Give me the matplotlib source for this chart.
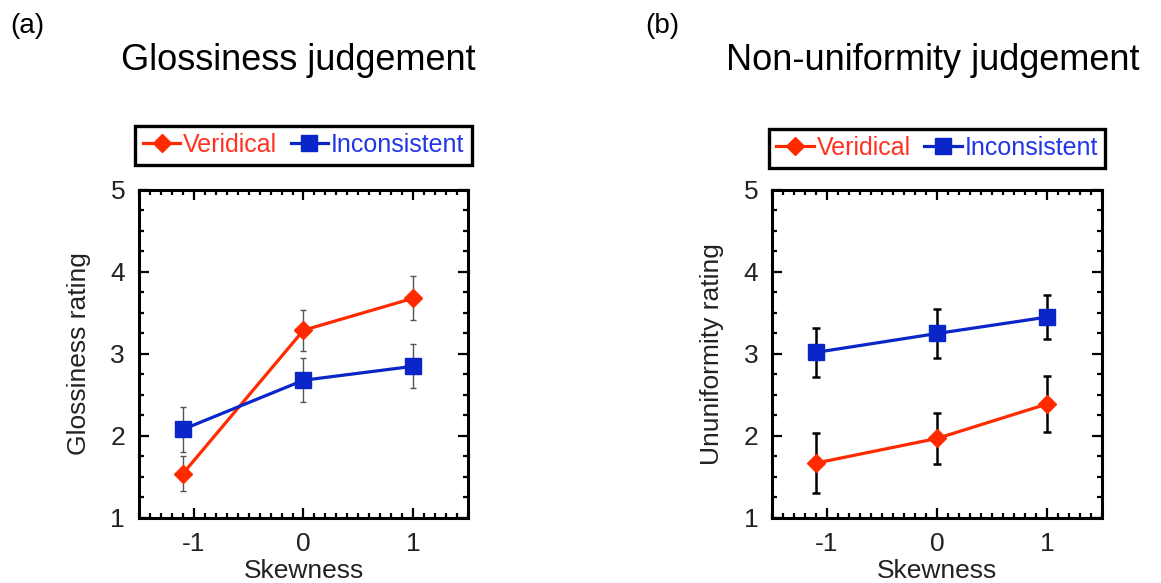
"""Glossiness and non-uniformity ratings against skewness."""

import matplotlib
matplotlib.use('Agg')
import matplotlib.pyplot as plt
from matplotlib.ticker import MultipleLocator

plt.rcParams['font.family'] = ['Liberation Sans', 'DejaVu Sans']

skew = [-1.1, 0, 1]
skew_ticks = [-1, 0, 1]
conditions = ['Veridical', 'Inconsistent']

gloss_veridical = [1.54, 3.29, 3.68]
gloss_veridical_err = [0.21, 0.25, 0.27]
gloss_inconsistent = [2.08, 2.68, 2.85]
gloss_inconsistent_err = [0.27, 0.27, 0.27]

unif_veridical = [1.67, 1.97, 2.39]
unif_veridical_err = [0.37, 0.31, 0.34]
unif_inconsistent = [3.02, 3.25, 3.45]
unif_inconsistent_err = [0.30, 0.30, 0.27]

RED = '#ff2a00'
BLUE = '#0a26c8'
RED_TXT = '#ff3322'
BLUE_TXT = '#2236e8'


def panel(ax, ver, ver_err, inc, inc_err, ylabel, ecol, elw, cap, leg_y):
    """Draw one rating panel."""
    ax.errorbar(skew, ver, yerr=ver_err, fmt='none', ecolor=ecol,
                elinewidth=elw, capsize=cap, capthick=elw, zorder=2)
    ax.errorbar(skew, inc, yerr=inc_err, fmt='none', ecolor=ecol,
                elinewidth=elw, capsize=cap, capthick=elw, zorder=2)
    ax.plot(skew, ver, color=RED, lw=2.3, marker='D', ms=9.5,
            label=conditions[0], zorder=3)
    ax.plot(skew, inc, color=BLUE, lw=2.3, marker='s', ms=11.5,
            label=conditions[1], zorder=3)

    ax.set_xlim(-1.5, 1.5)
    ax.set_ylim(1, 5)
    ax.set_xticks(skew_ticks)
    ax.set_xticklabels(['-1', '0', '1'])
    ax.set_yticks([1, 2, 3, 4, 5])
    ax.xaxis.set_minor_locator(MultipleLocator(0.1))
    ax.yaxis.set_minor_locator(MultipleLocator(0.25))
    ax.tick_params(which='both', direction='in', top=True, right=True,
                   labelsize=19, labelcolor='#222222', width=1.6)
    ax.tick_params(which='major', length=7, pad=10)
    ax.tick_params(which='minor', length=3.5)
    for s in ax.spines.values():
        s.set_linewidth(2.2)
    ax.set_xlabel('Skewness', fontsize=19, color='#222222', labelpad=2)
    ax.set_ylabel(ylabel, fontsize=19, color='#222222', labelpad=14)

    leg = ax.legend(ncol=2, loc='center', bbox_to_anchor=(0.5, leg_y),
                    fontsize=18, frameon=True, fancybox=False,
                    framealpha=1, edgecolor='black', handlelength=1.5,
                    handletextpad=0.1, columnspacing=0.55, borderpad=0.3,
                    borderaxespad=0)
    leg.get_frame().set_linewidth(2.4)
    for t, c in zip(leg.get_texts(), [RED_TXT, BLUE_TXT]):
        t.set_color(c)


def main():
    """Execute script."""
    fig = plt.figure(figsize=(11.61, 5.83), dpi=100)
    ax1 = fig.add_axes([0.1197, 0.1115, 0.2834, 0.5626])
    ax2 = fig.add_axes([0.665, 0.1115, 0.2842, 0.5626])

    panel(ax1, gloss_veridical, gloss_veridical_err, gloss_inconsistent,
          gloss_inconsistent_err, 'Glossiness rating', '#555555', 1.0, 2,
          1.137)
    panel(ax2, unif_veridical, unif_veridical_err, unif_inconsistent,
          unif_inconsistent_err, 'Ununiformity rating', 'black', 1.8, 3,
          1.128)

    fig.text(0.009, 0.955, '(a)', fontsize=20, va='center')
    fig.text(0.556, 0.955, '(b)', fontsize=20, va='center')
    fig.text(0.257, 0.897, 'Glossiness judgement', fontsize=26,
             ha='center', va='center')
    fig.text(0.803, 0.897, 'Non-uniformity judgement', fontsize=26,
             ha='center', va='center')

    fig.savefig('out.png', dpi=100)


main()
